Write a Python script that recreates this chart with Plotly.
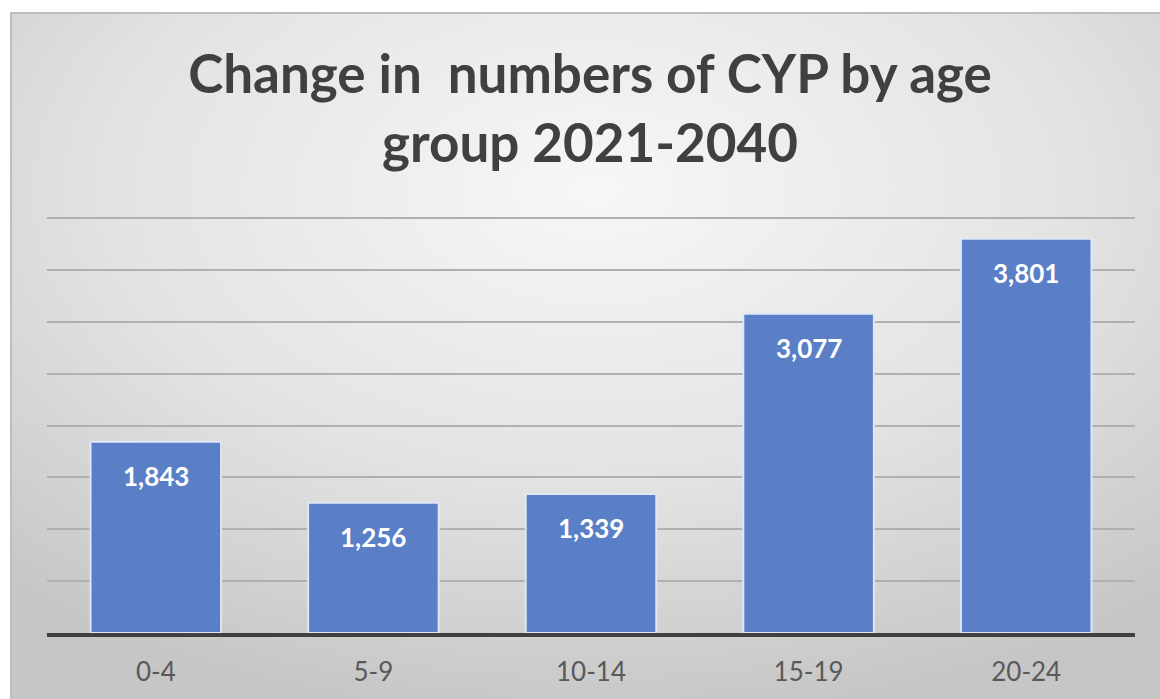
import base64
import plotly.graph_objects as go

# data
age_groups = ['0-4', '5-9', '10-14', '15-19', '20-24']
change = [1843, 1256, 1339, 3077, 3801]
title_text = 'Change in&nbsp; numbers of CYP by age<br>group 2021-2040'

W, H = 1160, 699
L, R, T, B = 47, 25, 215, 66
pw, ph = W - L - R, H - T - B


def px_x(x):
    # figure pixel -> paper x
    return (x - L) / pw


def px_y(y):
    return (H - B - y) / ph


# grey radial background like the Excel chart area
svg = ('<svg xmlns="http://www.w3.org/2000/svg" width="1150" height="687" '
       'preserveAspectRatio="none"><defs><radialGradient id="g" cx="50%" cy="25%" r="75%">'
       '<stop offset="0" stop-color="#f7f7f7"/><stop offset="0.55" stop-color="#e3e3e3"/>'
       '<stop offset="1" stop-color="#c6c6c6"/></radialGradient></defs>'
       '<rect width="100%" height="100%" fill="url(#g)"/></svg>')
bg_src = 'data:image/svg+xml;base64,' + base64.b64encode(svg.encode()).decode()

fig = go.Figure()
fig.add_trace(go.Bar(
    x=age_groups, y=change,
    marker=dict(color='#5a7fc6', line=dict(color='#dfe7f6', width=2)),
    hoverinfo='x+y',
))

# value labels just inside the top of each bar
for cat, val in zip(age_groups, change):
    fig.add_annotation(x=cat, y=val, text=f'{val:,}', showarrow=False,
                       yanchor='middle', yshift=-34,
                       font=dict(family='Lato', size=26, color='white', weight='bold'))

fig.update_layout(
    width=W, height=H,
    margin=dict(l=L, r=R, t=T, b=B),
    paper_bgcolor='white',
    plot_bgcolor='rgba(0,0,0,0)',
    bargap=0.4,
    showlegend=False,
    title=dict(text=title_text, x=590 / W, xanchor='center', y=(H - 93) / H, yanchor='top',
               font=dict(family='Lato', size=53, color='#404040', weight='bold')),
    images=[dict(source=bg_src, xref='paper', yref='paper', x=px_x(10), y=px_y(12),
                 sizex=(W + 10) / pw, sizey=(H + 10) / ph, xanchor='left', yanchor='top',
                 sizing='stretch', layer='below')],
    shapes=[dict(type='rect', xref='paper', yref='paper', x0=px_x(11), x1=px_x(W + 20),
                 y0=px_y(H + 20), y1=px_y(13), line=dict(color='#bdbdbd', width=2),
                 layer='below')],
)

fig.update_xaxes(showline=True, linecolor='#404040', linewidth=4, ticks='',
                 tickfont=dict(family='Lato', size=26, color='#595959'),
                 ticklabelstandoff=13, automargin=False)
fig.update_yaxes(range=[0, 4030], dtick=500, showticklabels=False, zeroline=False,
                 showgrid=True, gridcolor='#b0b0b0', gridwidth=2, automargin=False)

# the page body has an 8px default margin; drop it so the figure sits at 0,0
fig.write_html('out.html', config={'displayModeBar': False},
               post_script="document.body.style.margin='0';")
